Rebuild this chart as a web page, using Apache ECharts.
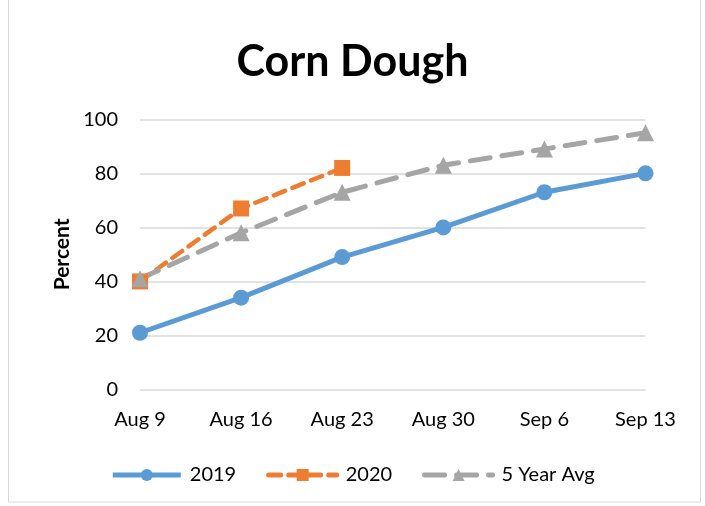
<!DOCTYPE html>
<html><head><meta charset="utf-8">
<script src="https://cdn.jsdelivr.net/npm/echarts@6/dist/echarts.min.js"></script>
<style>html,body{margin:0;padding:0;background:#fff}#c{width:705px;height:506px}</style>
</head><body><div id="c"></div>
<script>
const categories = ['Aug 9','Aug 16','Aug 23','Aug 30','Sep 6','Sep 13'];
const s2019 = [21, 34, 49, 60, 73, 80];
const s2020 = [40, 67, 82, null, null, null];
const s5yr = [41, 58, 73, 83, 89, 95];
const yTicks = [0, 20, 40, 60, 80, 100];

const FONT = 'Lato, "Open Sans", sans-serif';
const chart = echarts.init(document.getElementById('c'));
chart.setOption({
  animation: false,
  backgroundColor: '#fff',
  graphic: [{type:'rect', shape:{x:8.5,y:-2,width:692,height:504}, style:{fill:'none', stroke:'#d9d9d9', lineWidth:1}, silent:true}],
  title: {text:'Corn Dough', left:'center', top:36, textStyle:{fontFamily:FONT, fontSize:43, fontWeight:'bold', color:'#000'}},
  grid: {left:140, right:59.5, top:119.3, bottom:116.5},
  legend: {
    bottom: 16, left:'center', itemWidth:68, itemHeight:15, itemGap:30,
    textStyle:{fontFamily:FONT, fontSize:20, color:'#000', padding:[0,0,0,4]},
    lineStyle:{width:5},
    data:['2019','2020','5 Year Avg']
  },
  xAxis: {
    type:'category', data:categories, boundaryGap:false,
    axisLine:{show:false}, axisTick:{show:false},
    axisLabel:{fontFamily:FONT, fontSize:20, color:'#000', margin:20}
  },
  yAxis: {
    type:'value', min:0, max:100, interval:20,
    name:'Percent', nameLocation:'middle', nameGap:66,
    nameTextStyle:{fontFamily:FONT, fontSize:21, fontWeight:'bold', color:'#000'},
    axisLabel:{fontFamily:FONT, fontSize:20, color:'#000', margin:22},
    splitLine:{lineStyle:{color:'#d9d9d9', width:1.5}},
    axisLine:{show:false}, axisTick:{show:false}
  },
  series: [
    {name:'2019', type:'line', data:s2019, symbol:'circle', symbolSize:16,
     itemStyle:{color:'#5B9BD5'}, lineStyle:{color:'#5B9BD5', width:5}},
    {name:'2020', type:'line', data:s2020, symbol:'rect', symbolSize:16,
     itemStyle:{color:'#ED7D31'}, lineStyle:{color:'#ED7D31', width:4.5, type:[12,8], cap:'round'}},
    {name:'5 Year Avg', type:'line', data:s5yr, symbol:'triangle', symbolSize:17,
     itemStyle:{color:'#A5A5A5'}, lineStyle:{color:'#A5A5A5', width:5, type:[20,12], cap:'round'}}
  ]
});
</script></body></html>
